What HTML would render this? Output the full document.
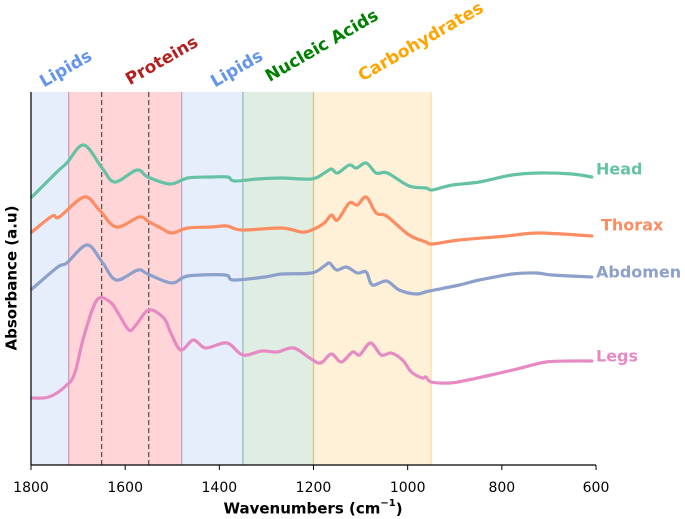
<!DOCTYPE html>
<html><head><meta charset="utf-8"><style>
html,body{margin:0;padding:0;background:#fff}
svg{display:block;font-family:"DejaVu Sans","Liberation Sans",sans-serif}
</style></head><body>
<svg id="chart" width="685" height="519" viewBox="0 0 685 519" xmlns="http://www.w3.org/2000/svg"></svg>
<script>
const bandNames=["Lipids","Proteins","Lipids","Nucleic Acids","Carbohydrates"];
const bandStart=[1800,1720,1480,1350,1200];
const bandEnd=[1720,1480,1350,1200,950];
const dashedLines=[1650,1550];
const xTicks=[1800,1600,1400,1200,1000,800,600];
const seriesNames=["Head","Thorax","Abdomen","Legs"];
const headW=[1798,1745,1724,1688,1649,1622,1575,1552,1505,1467,1416,1382,1368,1319,1268,1204,1177,1162,1149,1124,1109,1088,1067,1043,997,961,948,905,848,778,721,651,609];
const headV=[268,293,302,320,297,283,295,288,281,287,288,288,284,286,287,286,292,296,292,300,297,302,292,292,279,277,275,280,283,290,292,291,288];
const thoraxW=[1798,1755,1740,1687,1655,1619,1570,1549,1524,1501,1467,1416,1384,1352,1268,1225,1204,1177,1162,1149,1124,1107,1088,1067,1045,997,961,948,890,790,721,609];
const thoraxV=[233,249,248,268,255,238,248,243,237,232,237,238,239,235,237,233,235,242,250,245,262,260,268,252,249,230,223,221,225,229,232,229];
const abdomenW=[1798,1743,1724,1681,1649,1619,1573,1552,1501,1467,1388,1371,1303,1268,1204,1177,1166,1151,1130,1107,1088,1075,1045,1018,982,954,890,848,778,727,693,609];
const abdomenV=[176,198,202,220,203,185,195,191,182,189,190,185,188,191,192,199,202,195,198,192,193,180,184,175,171,174,180,185,191,192,190,188];
const legsW=[1798,1762,1726,1707,1688,1660,1632,1615,1592,1577,1550,1518,1503,1482,1455,1429,1384,1350,1310,1278,1242,1208,1185,1162,1141,1117,1102,1079,1056,1035,1011,992,969,961,950,910,872,823,768,706,651,609];
const legsV=[67,68,79,92,128,165,163,152,135,140,155,147,132,115,125,117,122,110,114,113,117,107,102,111,103,113,110,122,110,112,105,93,87,88,83,82,85,90,96,103,104,104];

const NS="http://www.w3.org/2000/svg";
const svg=document.getElementById('chart');
const X0=31,X1=596,YTOP=92,YBOT=465;
function xs(w){return X0+(1800-w)*(X1-X0)/1200;}
function ys(v){return YBOT-v;}
function mk(t,a,parent){const e=document.createElementNS(NS,t);for(const k in a)e.setAttribute(k,a[k]);(parent||svg).appendChild(e);return e;}
function smooth(pts){
  let d='M'+pts[0][0].toFixed(1)+','+pts[0][1].toFixed(1);
  for(let i=0;i<pts.length-1;i++){
    const p0=pts[Math.max(0,i-1)],p1=pts[i],p2=pts[i+1],p3=pts[Math.min(pts.length-1,i+2)];
    const c1x=p1[0]+(p2[0]-p0[0])/6,c1y=p1[1]+(p2[1]-p0[1])/6;
    const c2x=p2[0]-(p3[0]-p1[0])/6,c2y=p2[1]-(p3[1]-p1[1])/6;
    d+=` C${c1x.toFixed(1)},${c1y.toFixed(1)} ${c2x.toFixed(1)},${c2y.toFixed(1)} ${p2[0].toFixed(1)},${p2[1].toFixed(1)}`;
  }
  return d;
}

const bandFill=["rgba(100,149,237,0.16)","rgba(255,99,110,0.27)","rgba(100,149,237,0.16)","rgba(60,140,80,0.16)","rgba(255,180,60,0.2)"];
const bandEdge=["rgba(100,149,237,0.35)","rgba(220,90,110,0.4)","rgba(100,149,237,0.35)","rgba(60,140,80,0.3)","rgba(255,180,60,0.4)"];
const labelColor=["#6495ed","#b22222","#6495ed","#008000","#ffa500"];
const labelPos=[[66,69],[162,61],[237,69],[322,46],[421,42]];
for(let i=0;i<bandNames.length;i++){
  const xa=xs(bandStart[i]),xb=xs(bandEnd[i]);
  const r=mk('rect',{x:xa,y:YTOP,width:xb-xa,height:YBOT-YTOP,fill:bandFill[i]});
  
  
  mk('line',{x1:xa,x2:xa,y1:YTOP,y2:YBOT,stroke:bandEdge[i],'stroke-width':1.2});
  mk('line',{x1:xb,x2:xb,y1:YTOP,y2:YBOT,stroke:bandEdge[i],'stroke-width':1.2});
  const t=mk('text',{x:labelPos[i][0],y:labelPos[i][1],fill:labelColor[i],'font-size':17,'font-weight':'bold','text-anchor':'middle','dominant-baseline':'middle',transform:`rotate(-30 ${labelPos[i][0]} ${labelPos[i][1]})`});
  t.textContent=bandNames[i];
  
  
}
dashedLines.forEach(w=>{
  const l=mk('line',{x1:xs(w),x2:xs(w),y1:YTOP,y2:YBOT,stroke:'#555','stroke-width':1.3,'stroke-dasharray':'5,3'});
  
  
});
const colors=["#66c2a5","#fc8d62","#8da0cb","#e78ac3"];
const allW=[headW,thoraxW,abdomenW,legsW],allV=[headV,thoraxV,abdomenV,legsV];
const labXY=[[596,170],[601,226],[596,273],[596,357]];
for(let s=0;s<4;s++){
  const pts=allW[s].map((w,i)=>[xs(w),ys(allV[s][i])]);
  const p=mk('path',{d:smooth(pts),fill:'none',stroke:colors[s],'stroke-width':3.2,'stroke-linejoin':'round','stroke-linecap':'round'});
  
  
  const t=mk('text',{x:labXY[s][0],y:labXY[s][1],fill:colors[s],'font-size':16,'font-weight':'bold','dominant-baseline':'middle'});
  t.textContent=seriesNames[s];
  
  
}
const ya=mk('line',{x1:X0,x2:X0,y1:YTOP,y2:YBOT,stroke:'#000','stroke-width':1.2});


const xa=mk('line',{x1:X0,x2:X1,y1:YBOT,y2:YBOT,stroke:'#000','stroke-width':1.2});


xTicks.forEach(w=>{
  mk('line',{x1:xs(w),x2:xs(w),y1:YBOT,y2:YBOT+5,stroke:'#000','stroke-width':1});
  const t=mk('text',{x:xs(w),y:488,'font-size':14,'text-anchor':'middle','dominant-baseline':'middle',fill:'#000'});
  t.textContent=w;
  
  
});
const xl=mk('text',{x:313,y:509,'font-size':15,'font-weight':'bold','text-anchor':'middle','dominant-baseline':'middle'});
xl.innerHTML='Wavenumbers (cm<tspan dy="-6" font-size="10">−1</tspan><tspan dy="6">)</tspan>';


const yl=mk('text',{x:12,y:278,'font-size':15,'font-weight':'bold','text-anchor':'middle','dominant-baseline':'middle',transform:'rotate(-90 12 278)'});
yl.textContent='Absorbance (a.u)';


</script>
</body></html>
